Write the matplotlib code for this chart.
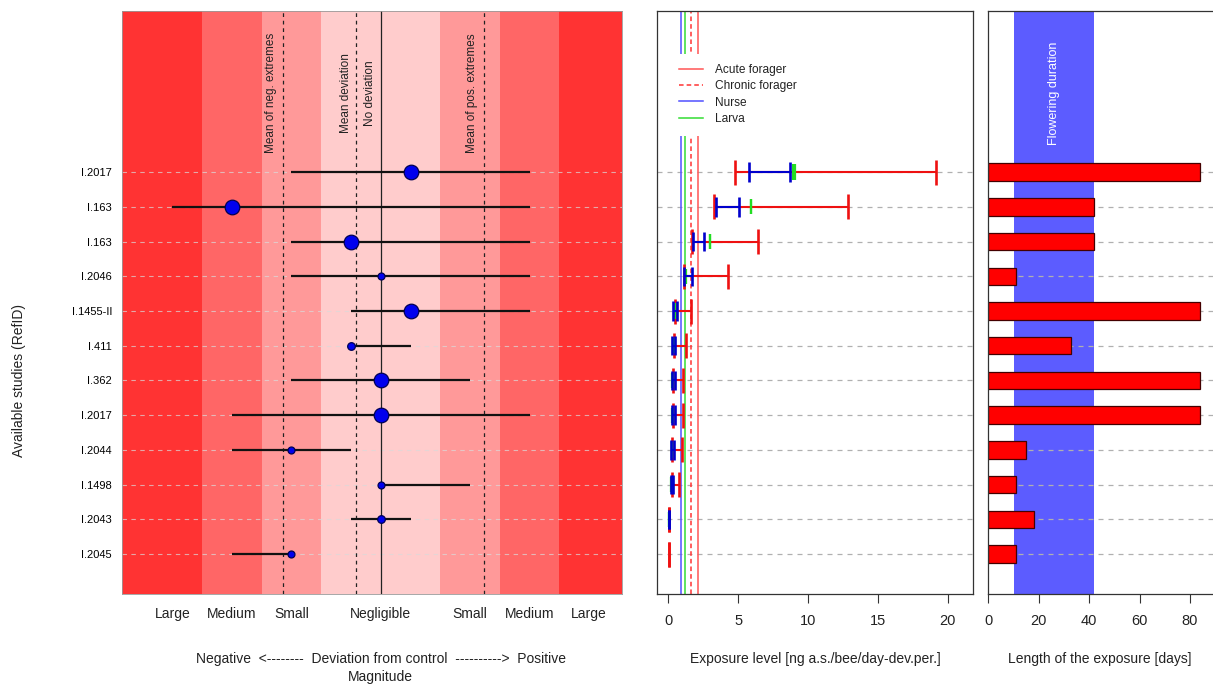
import matplotlib
matplotlib.use('Agg')
import matplotlib.pyplot as plt
import matplotlib.transforms as mtransforms

plt.rcParams['font.family'] = ['Liberation Sans', 'DejaVu Sans']
plt.rcParams['text.color'] = '#222222'
plt.rcParams['xtick.color'] = '#333333'
plt.rcParams['xtick.labelcolor'] = '#222222'

nan = float('nan')

# studies, top to bottom
studies = ['I.2017', 'I.163', 'I.163', 'I.2046', 'I.1455-II', 'I.411',
           'I.362', 'I.2017', 'I.2044', 'I.1498', 'I.2043', 'I.2045']

# deviation from control (magnitude class units, 0 = no deviation)
dev_point = [0.5, -2.5, -0.5, 0, 0.5, -0.5, 0, 0, -1.5, 0, 0, -1.5]
dev_low = [-1.5, -3.5, -1.5, -1.5, -0.5, -0.5, -1.5, -2.5, -2.5, 0, -0.5, -2.5]
dev_high = [2.5, 2.5, 2.5, 2.5, 2.5, 0.5, 1.5, 2.5, -0.5, 1.5, 0.5, -1.5]
dev_weight = [10.5, 10.5, 10.5, 5, 10.5, 5.5, 10.5, 10.5, 5, 5, 5.5, 5]

band_edges = [-4.35, -3, -2, -1, 1, 2, 3, 4.05]
band_colors = ['#FF3333', '#FF6666', '#FF9999', '#FFCCCC', '#FF9999', '#FF6666', '#FF3333']
mag_ticks = [-3.5, -2.5, -1.5, 0, 1.5, 2.5, 3.5]
mag_labels = ['Large', 'Medium', 'Small', 'Negligible', 'Small', 'Medium', 'Large']

ref_lines = [-1.65, -0.41, 0, 1.74]
ref_labels = ['Mean of neg. extremes', 'Mean deviation', 'No deviation', 'Mean of pos. extremes']
ref_styles = ['--', '--', '-', '--']

# exposure level ranges [ng a.s./bee/day-dev.per.]
acute_low = [4.8, 3.25, 1.7, 1.1, 0.45, 0.4, 0.35, 0.35, 0.3, 0.3, 0.02, 0.02]
acute_high = [19.15, 12.85, 6.45, 4.3, 1.6, 1.3, 1.05, 1.05, 0.95, 0.75, 0.05, 0.03]
nurse_low = [5.8, 3.4, 1.75, 1.15, 0.35, 0.3, 0.25, 0.25, 0.22, 0.18, 0.02, nan]
nurse_high = [8.7, 5.05, 2.55, 1.72, 0.6, 0.5, 0.45, 0.45, 0.4, 0.35, 0.04, nan]
larva_low = [8.9, 5.95, 3.0, 1.2, 0.45, 0.35, 0.3, 0.3, 0.25, 0.2, 0.02, nan]
larva_high = [9.05, 5.95, 3.0, 1.25, 0.5, 0.4, 0.35, 0.35, 0.3, 0.25, 0.03, nan]

thresholds = [2.15, 1.63, 0.93, 1.22]
threshold_names = ['Acute forager', 'Chronic forager', 'Nurse', 'Larva']

# exposure length [days]
exposure_days = [84, 42, 42, 11, 84, 33, 84, 84, 15, 11, 18, 11]
flowering = (10, 42)

n = len(studies)
ypos = list(range(n, 0, -1))

W, H = 1213, 686
fig = plt.figure(figsize=(W / 100, H / 100), dpi=100)


def rect(x0, x1, top=11, bottom=594):
    return [x0 / W, 1 - bottom / H, (x1 - x0) / W, (bottom - top) / H]


ylim = (-0.15, 16.64)
grid_kw = dict(color='#B0B0B0', linestyle=(0, (4, 4)), linewidth=0.9)

# ---------------- left panel: deviation from control
ax1 = fig.add_axes(rect(121.7, 622))
for i in range(len(band_colors)):
    ax1.axvspan(band_edges[i], band_edges[i + 1], color=band_colors[i], lw=0, zorder=0)
for y in ypos:
    ax1.axhline(y, color='#DADADA', alpha=0.7, linestyle=(0, (4, 4)), linewidth=0.8, zorder=1)
for x, s in zip(ref_lines, ref_styles):
    ax1.axvline(x, color='#222222', linestyle=s, linewidth=0.9, dashes=(3, 3) if s == '--' else (None, None), zorder=2)
ax1.hlines(ypos, dev_low, dev_high, color='#111111', linewidth=1.6, zorder=3)
for y, x, w in zip(ypos, dev_point, dev_weight):
    ax1.plot(x, y, 'o', ms=w, mfc='#0000EE', mec='#000055', mew=0.9, zorder=4)
label_x = [-1.84, -0.59, -0.175, 1.525]
for x, t in zip(label_x, ref_labels):
    ax1.text(x, 14.27, t, rotation=90, ha='center', va='center', fontsize=8.5, zorder=5)
ax1.set_xlim(band_edges[0], band_edges[-1])
ax1.set_ylim(*ylim)
ax1.set_xticks(mag_ticks)
ax1.set_xticklabels(mag_labels, fontsize=10, va='baseline')
ax1.set_yticks(ypos)
ax1.set_yticklabels(studies, fontsize=8)
ax1.tick_params(axis='x', length=0, pad=17)
ax1.tick_params(axis='y', length=0, pad=7)
for sp in ax1.spines.values():
    sp.set_color('#999999')
    sp.set_linewidth(0.6)
trans = mtransforms.blended_transform_factory(ax1.transData, fig.transFigure)
ax1.text(0, 1 - 659 / H, 'Negative  <--------  Deviation from control  ---------->  Positive',
         transform=trans, ha='center', va='center', fontsize=10)
ax1.text(0, 1 - 677 / H, 'Magnitude', transform=trans, ha='center', va='center', fontsize=10)
fig.text(19 / W, 1 - 380 / H, 'Available studies (RefID)', rotation=90,
         ha='center', va='center', fontsize=10)

# ---------------- middle panel: exposure level
ax2 = fig.add_axes(rect(656.7, 973.3))
for y in ypos:
    ax2.axhline(y, zorder=0, **grid_kw)
th_colors = ['#FF5555', '#FF3333', '#5050FF', '#33DD33']
th_styles = ['-', '--', '-', '-']
for x, c, s, name in zip(thresholds, th_colors, th_styles, threshold_names):
    ax2.axvline(x, color=c, linestyle=s, linewidth=1.1, label=name,
                dashes=(3, 2) if s == '--' else (None, None), zorder=1)


def range_bars(ax, lo, hi, color, cap, lw, z):
    ax.hlines(ypos, lo, hi, color=color, linewidth=lw, zorder=z)
    ax.vlines(lo, [y - cap for y in ypos], [y + cap for y in ypos], color=color, linewidth=lw + 0.4, zorder=z)
    ax.vlines(hi, [y - cap for y in ypos], [y + cap for y in ypos], color=color, linewidth=lw + 0.4, zorder=z)


range_bars(ax2, acute_low, acute_high, '#EE1111', 0.36, 1.5, 3)
range_bars(ax2, larva_low, larva_high, '#22DD22', 0.22, 1.2, 4)
range_bars(ax2, nurse_low, nurse_high, '#0000CC', 0.28, 1.5, 5)
leg = ax2.legend(loc='upper left', bbox_to_anchor=(0.037, 0.927), borderaxespad=0,
                 fontsize=8.6, frameon=True, facecolor='white', edgecolor='none', framealpha=1,
                 borderpad=0.9, handlelength=2.0, handletextpad=1.0, labelspacing=0.35)
leg.set_zorder(6)
for t in leg.get_texts():
    t.set_color('#222222')
ax2.set_xlim(-0.83, 21.83)
ax2.set_ylim(*ylim)
ax2.set_xticks([0, 5, 10, 15, 20])
ax2.tick_params(axis='x', length=6.5, pad=8, labelsize=10.5, width=0.8)
ax2.set_yticks([])
for sp in ax2.spines.values():
    sp.set_color('#333333')
    sp.set_linewidth(0.9)
fig.text((656.7 + 973.3) / 2 / W, 1 - 659 / H, 'Exposure level [ng a.s./bee/day-dev.per.]',
         ha='center', va='center', fontsize=10)

# ---------------- right panel: length of exposure
ax3 = fig.add_axes(rect(988.3, 988.3 + 92 * 2.52))
ax3.axvspan(flowering[0], flowering[1], color='#5C5CFF', lw=0, zorder=0)
for y in ypos:
    ax3.axhline(y, zorder=1, **grid_kw)
ax3.barh(ypos, exposure_days, height=0.5, color='#FF0000', edgecolor='#440000', linewidth=0.9, zorder=2)
ax3.text(sum(flowering) / 2, 14.27, 'Flowering duration', rotation=90, ha='center', va='center',
         color='white', fontsize=9)
ax3.set_xlim(0, 92)
ax3.set_ylim(*ylim)
ax3.set_xticks([0, 20, 40, 60, 80])
ax3.tick_params(axis='x', length=6.5, pad=8, labelsize=10.5, width=0.8)
ax3.set_yticks([])
for sp in ax3.spines.values():
    sp.set_color('#333333')
    sp.set_linewidth(0.9)
fig.text(1100 / W, 1 - 659 / H, 'Length of the exposure [days]', ha='center', va='center', fontsize=10)

fig.savefig('out.png', dpi=100)
